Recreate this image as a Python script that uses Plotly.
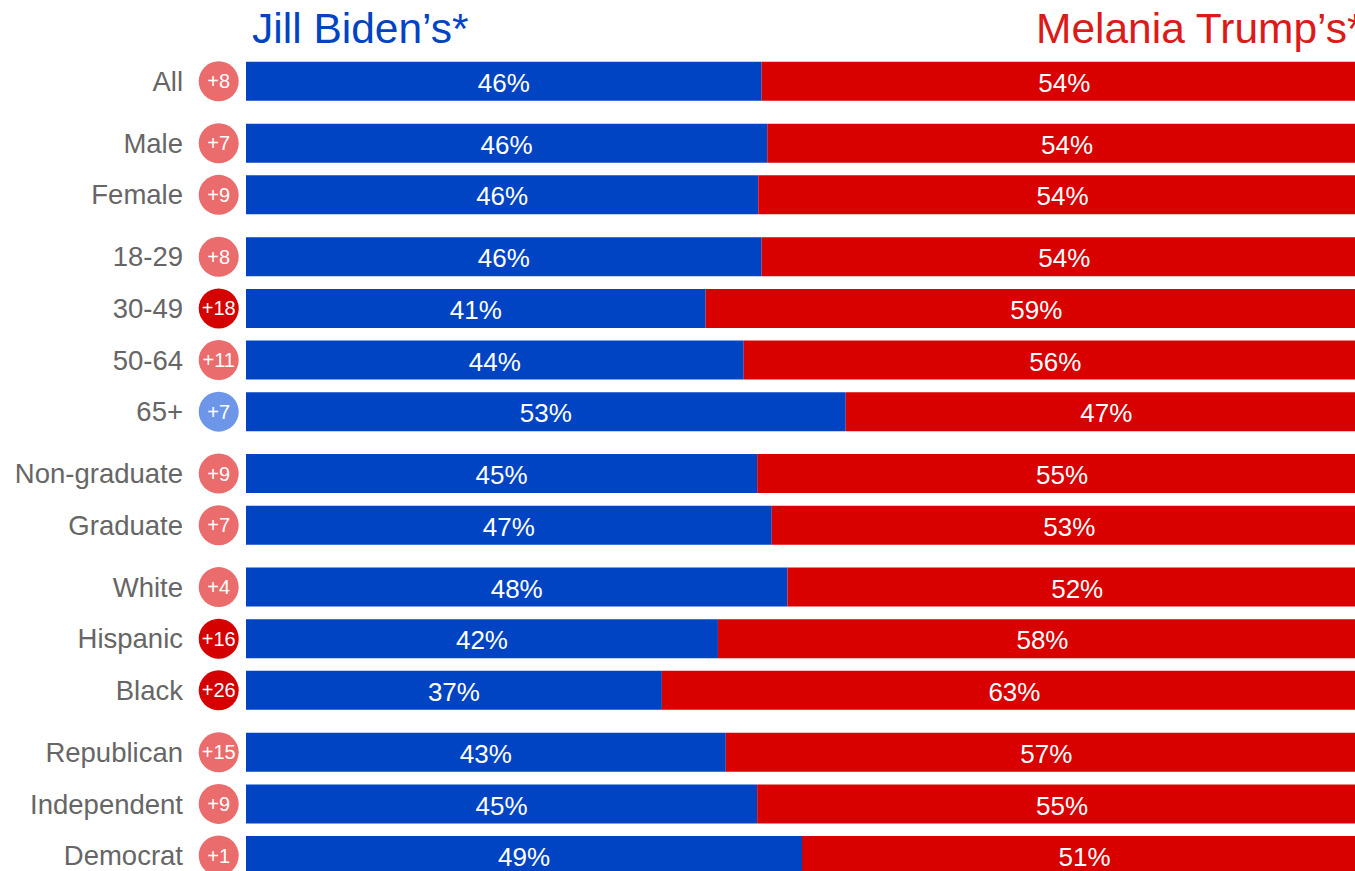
import plotly.graph_objects as go

# ---- data ----
categories = ["All", "Male", "Female", "18-29", "30-49", "50-64", "65+",
              "Non-graduate", "Graduate", "White", "Hispanic", "Black",
              "Republican", "Independent", "Democrat"]
groups = [0, 1, 1, 2, 2, 2, 2, 3, 3, 4, 4, 4, 5, 5, 5]
biden_share = [46.0, 46.5, 45.7, 46.0, 41.0, 44.4, 53.5, 45.6, 46.9,
               48.3, 42.1, 37.1, 42.8, 45.6, 49.6]
biden_label = [46, 46, 46, 46, 41, 44, 53, 45, 47, 48, 42, 37, 43, 45, 49]
trump_label = [54, 54, 54, 54, 59, 56, 47, 55, 53, 52, 58, 63, 57, 55, 51]
margin = [8, 7, 9, 8, 18, 11, 7, 9, 7, 4, 16, 26, 15, 9, 1]
leader = ["T", "T", "T", "T", "T", "T", "B", "T", "T", "T", "T", "T", "T", "T", "T"]

BLUE = "#0044c4"
RED = "#d90000"
LIGHT_RED = "#ea6c6c"
DARK_RED = "#d50000"
LIGHT_BLUE = "#6e96e8"
FONT = "Liberation Sans, Arial, sans-serif"

# row positions: rows within a group are 1 apart, groups separated by an extra gap
GROUP_GAP = 0.2
ypos = [i + g * GROUP_GAP for i, g in enumerate(groups)]
TEXT_NUDGE = 0.08  # optical centring of text in the bars
ytext = [y + TEXT_NUDGE for y in ypos]

trump_share = [100 - b for b in biden_share]

fig = go.Figure()
fig.add_trace(go.Bar(
    y=ypos, x=biden_share, orientation="h", marker=dict(color=BLUE, line=dict(width=0)),
    width=0.756, hoverinfo="skip", showlegend=False))
fig.add_trace(go.Bar(
    y=ypos, x=trump_share, base=biden_share, orientation="h",
    marker=dict(color=RED, line=dict(width=0)),
    width=0.756, hoverinfo="skip", showlegend=False))

# percent labels
fig.add_trace(go.Scatter(
    x=[b / 2 for b in biden_share], y=ytext, mode="text",
    text=[f"{v}%" for v in biden_label],
    textfont=dict(family=FONT, size=26, color="white"),
    textposition="middle center", hoverinfo="skip", showlegend=False))
fig.add_trace(go.Scatter(
    x=[b + t / 2 for b, t in zip(biden_share, trump_share)], y=ytext, mode="text",
    text=[f"{v}%" for v in trump_label],
    textfont=dict(family=FONT, size=26, color="white"),
    textposition="middle center", hoverinfo="skip", showlegend=False))

# margin circles (on a narrow helper axis left of the bars)
def circ_color(m, l):
    if l == "B":
        return LIGHT_BLUE
    return DARK_RED if m > 15 else LIGHT_RED

CIRCLE_X = 28.7
fig.add_trace(go.Scatter(
    x=[CIRCLE_X] * len(ypos), y=ypos, mode="markers", xaxis="x2", yaxis="y",
    marker=dict(size=40, color=[circ_color(m, l) for m, l in zip(margin, leader)],
                line=dict(width=0)),
    cliponaxis=False, hoverinfo="skip", showlegend=False))
fig.add_trace(go.Scatter(
    x=[CIRCLE_X] * len(ypos), y=[y + 0.04 for y in ypos], mode="text", xaxis="x2", yaxis="y",
    text=[f"+{m}" for m in margin],
    textfont=dict(family=FONT, size=20, color="white"),
    textposition="middle center", cliponaxis=False,
    hoverinfo="skip", showlegend=False))

# figure fills the whole window (page margin removed below)
FIG_W, FIG_H = 1355, 871
ML = 190                       # paper area starts at x=190
PLOT_W = FIG_W - ML
d = (246 - ML) / PLOT_W        # bars start at x=246
Y_BOTTOM = 15 + (FIG_H - 855.5) / 51.6
Y_TOP = -81.3 / 51.6

fig.update_layout(
    width=FIG_W, height=FIG_H,
    margin=dict(l=ML, r=0, t=0, b=0, autoexpand=False),
    paper_bgcolor="white", plot_bgcolor="white",
    barmode="overlay",
    xaxis=dict(domain=[d, 1], range=[0, 98.93], visible=False, fixedrange=True,
               anchor="y", automargin=False),
    xaxis2=dict(domain=[0, d], range=[0, 56], visible=False, fixedrange=True,
                anchor="y", automargin=False),
    yaxis=dict(range=[Y_BOTTOM, Y_TOP], anchor="x", automargin=False, fixedrange=True,
               tickvals=ypos, ticktext=categories, ticks="",
               showgrid=False, zeroline=False, showline=False,
               ticklabelstandoff=62, ticklabeloverflow="allow",
               tickfont=dict(family=FONT, size=27.5, color="#666666")),
    annotations=[
        dict(text="Jill Biden\u2019s*", xref="paper", yref="paper",
             x=(250 - ML) / PLOT_W, y=1 - 28 / FIG_H, xanchor="left", yanchor="middle",
             showarrow=False, font=dict(family=FONT, size=42.5, color="#0044c4")),
        dict(text="Melania Trump\u2019s*", xref="paper", yref="paper",
             x=(1034 - ML) / PLOT_W, y=1 - 28 / FIG_H, xanchor="left", yanchor="middle",
             showarrow=False, font=dict(family=FONT, size=42.5, color="#dd1a1a")),
    ],
)

fig.write_html(
    "out.html",
    config={"displayModeBar": False},
    post_script="document.body.style.margin='0';document.body.style.overflow='hidden';",
)
